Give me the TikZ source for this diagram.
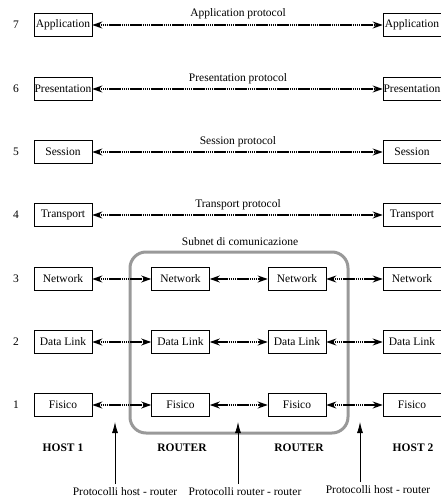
\documentclass[tikz,border=0pt]{standalone}
\usepackage{fontspec}
\setmainfont{Liberation Serif}
\usetikzlibrary{arrows.meta}
\tikzset{
  layer/.style={draw, line width=0.6pt, minimum width=58pt, minimum height=23pt, inner sep=0pt, font=\fontsize{11.5}{13}\selectfont},
  proto/.style={line width=1.3pt, dash pattern=on 1.6pt off 0.5pt, {Stealth[length=10pt,width=7pt]}-{Stealth[length=10pt,width=7pt]}},
  plabel/.style={font=\fontsize{11.5}{13}\selectfont},
  num/.style={font=\fontsize{11.5}{13}\selectfont},
  hostlabel/.style={font=\fontsize{11.5}{13}\selectfont\bfseries},
  pointer/.style={line width=0.8pt, -{Latex[length=11pt,width=6pt]}},
  subnet/.style={draw=black!40, line width=3pt, rounded corners=16pt}
}
\begin{document}
\begin{tikzpicture}[x=1pt,y=-1pt]
\useasboundingbox (0,0) rectangle (441,498);
% row numbers
\foreach \n/\y in {7/25,6/89,5/152,4/215,3/279,2/342,1/405}
  \node[num] (n\n) at (16,\y) {\n};
% subnet box
\draw[subnet] (130,252) rectangle (348,433);
\node[plabel] (subl) at (240,242) {Subnet di comunicazione};
% host boxes
\node[layer] (a1) at (63,25) {Application};
\node[layer] (p1) at (63,89) {Presentation};
\node[layer] (s1) at (63,152) {Session};
\node[layer] (t1) at (63,215) {Transport};
\node[layer] (w1) at (63,279) {Network};
\node[layer] (d1) at (63,342) {Data Link};
\node[layer] (f1) at (63,405) {Fisico};
\node[layer] (a2) at (412,25) {Application};
\node[layer] (p2) at (412,89) {Presentation};
\node[layer] (s2) at (412,152) {Session};
\node[layer] (t2) at (412,215) {Transport};
\node[layer] (w2) at (412,279) {Network};
\node[layer] (d2) at (412,342) {Data Link};
\node[layer] (f2) at (412,405) {Fisico};
% routers
\node[layer] (wr1) at (180.5,279) {Network};
\node[layer] (dr1) at (180.5,342) {Data Link};
\node[layer] (fr1) at (180.5,405) {Fisico};
\node[layer] (wr2) at (297,279) {Network};
\node[layer] (dr2) at (297,342) {Data Link};
\node[layer] (fr2) at (297,405) {Fisico};
% end-to-end protocols
\draw[proto] (a1) -- (a2);
\draw[proto] (p1) -- (p2);
\draw[proto] (s1) -- (s2);
\draw[proto] (t1) -- (t2);
\node[plabel] (la) at (238,14) {Application protocol};
\node[plabel] (lp) at (238,79) {Presentation protocol};
\node[plabel] (ls) at (238,142) {Session protocol};
\node[plabel] (lt) at (238,205) {Transport protocol};
% hop protocols
\foreach \r in {w,d,f} {
  \draw[proto] (\r1) -- (\r r1);
  \draw[proto] (\r r1) -- (\r r2);
  \draw[proto] (\r r2) -- (\r2);
}
% host labels
\node[hostlabel] (h1) at (63,448) {HOST 1};
\node[hostlabel] (r1) at (182,448) {ROUTER};
\node[hostlabel] (r2) at (299,448) {ROUTER};
\node[hostlabel] (h2) at (413,448) {HOST 2};
% bottom labels and pointers
\node[plabel, anchor=north] (b1) at (125,484) {Protocolli host - router};
\node[plabel, anchor=north] (b2) at (245,484) {Protocolli router - router};
\node[plabel, anchor=north] (b3) at (378,482) {Protocolli host - router};
\coordinate (t1p) at (115,422);
\coordinate (t2p) at (238,422);
\coordinate (t3p) at (360,422);
\draw[pointer] (b1.north -| t1p) -- (t1p);
\draw[pointer] (b2.north -| t2p) -- (t2p);
\draw[pointer] (b3.north -| t3p) -- (t3p);
\end{tikzpicture}
\end{document}
